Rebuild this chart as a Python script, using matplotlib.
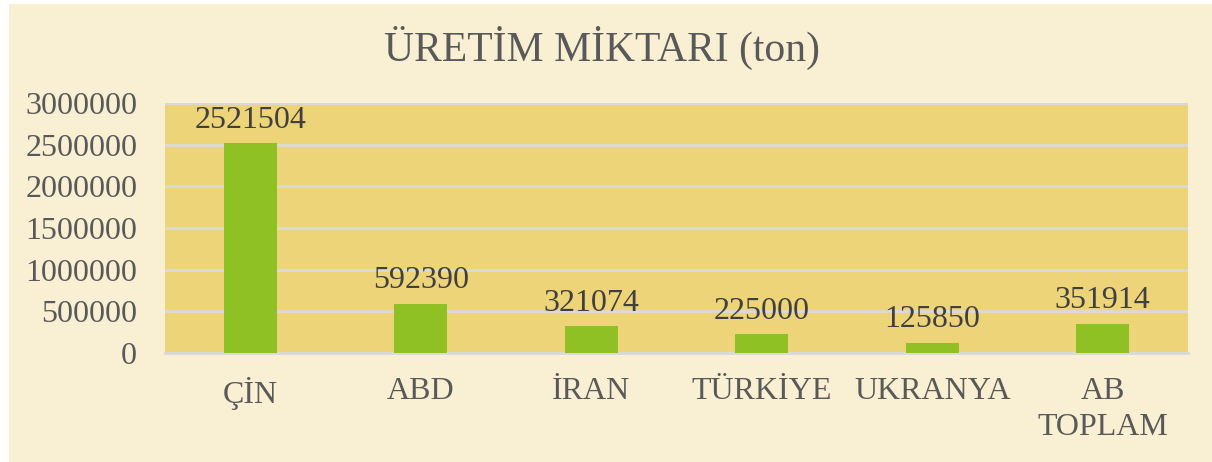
import matplotlib.pyplot as plt
from matplotlib.patches import Rectangle

countries = ['ÇİN', 'ABD', 'İRAN', 'TÜRKİYE', 'UKRANYA', 'AB\nTOPLAM']
production = [2521504, 592390, 321074, 225000, 125850, 351914]
yticks = [0, 500000, 1000000, 1500000, 2000000, 2500000, 3000000]

plt.rcParams['font.family'] = ['Liberation Serif', 'DejaVu Serif']

fig = plt.figure(figsize=(12.12, 4.62), dpi=100, facecolor='white')
# cream panel behind the chart
fig.patches.append(Rectangle((9 / 1212, 0), 1 - 9 / 1212, 1 - 4 / 462,
                             transform=fig.transFigure, facecolor='#F9EFD2',
                             edgecolor='none', zorder=-10))

ax = fig.add_axes([165 / 1212, 1 - 353 / 462, (1188 - 165) / 1212, (353 - 103) / 462])
ax.set_facecolor('#EED478')

x = range(len(countries))
bars = ax.bar(x, production, width=0.31, color='#8FC024', zorder=3)

for xi, v in zip(x, production):
    ax.annotate(str(v), xy=(xi, v), xytext=(0, 6), textcoords='offset points',
                ha='center', va='bottom', fontsize=23, color='#404040', zorder=4)

ax.set_xlim(-0.5, len(countries) - 0.5)
ax.set_ylim(0, 3000000)
ax.set_yticks(yticks)
ax.set_yticklabels([str(t) for t in yticks])
ax.set_xticks(list(x))
ax.set_xticklabels(countries, linespacing=1.32)
ax.tick_params(axis='both', length=0, labelsize=23, labelcolor='#595959')
ax.tick_params(axis='x', pad=17)
ax.tick_params(axis='y', pad=20)

ax.yaxis.grid(True, color='#D9D9D9', linewidth=2)
ax.set_axisbelow(True)
for side in ['top', 'right', 'left']:
    ax.spines[side].set_visible(False)
ax.spines['bottom'].set_color('#D9D9D9')
ax.spines['bottom'].set_linewidth(2)

fig.text(602 / 1212, 1 - 48 / 462, 'ÜRETİM MİKTARI (ton)', ha='center', va='center',
         fontsize=30, color='#595959')

fig.savefig('out.png', dpi=100, facecolor=fig.get_facecolor())
